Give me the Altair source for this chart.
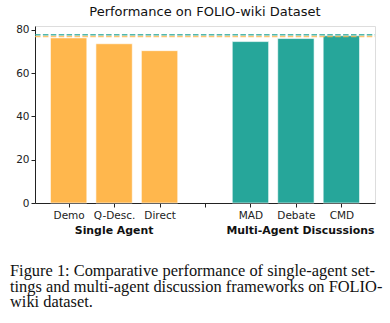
import json
import altair as alt
import pandas as pd

# ---- data ----
categories = ["Demo", "Q-Desc.", "Direct", "MAD", "Debate", "CMD"]
positions = [0, 1, 2, 4, 5, 6]
values = [76.3, 73.6, 70.4, 74.6, 76.0, 77.3]
groups = ["Single Agent", "Single Agent", "Single Agent",
          "Multi-Agent Discussions", "Multi-Agent Discussions", "Multi-Agent Discussions"]
tick_labels = ["Demo", "Q-Desc.", "Direct", "", "MAD", "Debate", "CMD"]
group_names = ["Single Agent", "Multi-Agent Discussions"]
group_centers = [1.0, 5.1]
ref_values = [76.9, 77.7]
ref_groups = ["Single Agent", "Multi-Agent Discussions"]
title_text = "Performance on FOLIO-wiki Dataset"
caption_lines = [
    "Figure 1: Comparative performance of single-agent set-",
    "tings and multi-agent discussion frameworks on FOLIO-",
    "wiki dataset.",
]

ORANGE = "#FFB74D"
TEAL = "#26A69A"

W, H = 340, 177

bars_df = pd.DataFrame({"cat": categories, "pos": positions, "value": values, "group": groups})
bars_df["x0"] = bars_df["pos"] - 0.4
bars_df["x1"] = bars_df["pos"] + 0.4
ref_df = pd.DataFrame({"value": ref_values, "group": ref_groups})
grp_df = pd.DataFrame({"name": group_names, "center": group_centers})
cap_df = pd.DataFrame({"line": caption_lines, "i": list(range(len(caption_lines)))})

color_scale = alt.Scale(domain=["Single Agent", "Multi-Agent Discussions"], range=[ORANGE, TEAL])
xscale = alt.Scale(domain=[-0.74, 6.74], nice=False, zero=False)
yscale = alt.Scale(domain=[0, 81.8], nice=False)

label_expr = json.dumps(tick_labels) + "[round(datum.value)]"

bars = alt.Chart(bars_df).mark_bar(stroke="white", strokeWidth=0.6).encode(
    x=alt.X("x0:Q", scale=xscale,
            axis=alt.Axis(values=list(range(7)), labelExpr=label_expr, title=None, grid=False,
                          labelFont="DejaVu Sans", labelFontSize=10.5, labelColor="#222",
                          tickColor="#222", domainColor="#222", tickSize=4, labelPadding=3)),
    x2="x1:Q",
    y=alt.Y("value:Q", scale=yscale,
            axis=alt.Axis(values=[0, 20, 40, 60, 80], title=None, grid=False,
                          labelFont="DejaVu Sans", labelFontSize=10.5, labelColor="#222",
                          tickColor="#222", domainColor="#222", tickSize=4, labelPadding=2)),
    y2=alt.datum(0),
    color=alt.Color("group:N", scale=color_scale, legend=None),
)

refs = alt.Chart(ref_df).mark_rule(strokeWidth=1.5, strokeDash=[5.5, 2.4], opacity=0.8).encode(
    y=alt.Y("value:Q", scale=yscale),
    x=alt.value(0), x2=alt.value(W),
    color=alt.Color("group:N", scale=color_scale, legend=None),
)

grp_text = alt.Chart(grp_df).mark_text(font="DejaVu Sans", fontSize=10.9, fontWeight="bold",
                                       color="#111", baseline="alphabetic").encode(
    x=alt.X("center:Q", scale=xscale),
    y=alt.value(H + 31),
    text="name:N",
)

cap_text = alt.Chart(cap_df).transform_calculate(
    py=f"{H + 73} + datum.i * 15.7"
).mark_text(font="Liberation Serif", fontSize=16.4, color="#111",
            align="left", baseline="alphabetic").encode(
    x=alt.value(-25),
    y=alt.Y("py:Q", scale=None),
    text="line:N",
)

chart = alt.layer(bars, refs, grp_text, cap_text).properties(
    width=W, height=H,
    title=alt.TitleParams(title_text, font="DejaVu Sans", fontSize=13, fontWeight="normal",
                          color="#111", anchor="middle", offset=6),
    padding={"left": 35, "top": 26, "right": 15, "bottom": 120},
    autosize=alt.AutoSizeParams(type="none"),
).configure_view(stroke="#222", strokeWidth=1).configure(background="white")

chart.save("out.html", embed_options={"renderer": "svg", "actions": False})
